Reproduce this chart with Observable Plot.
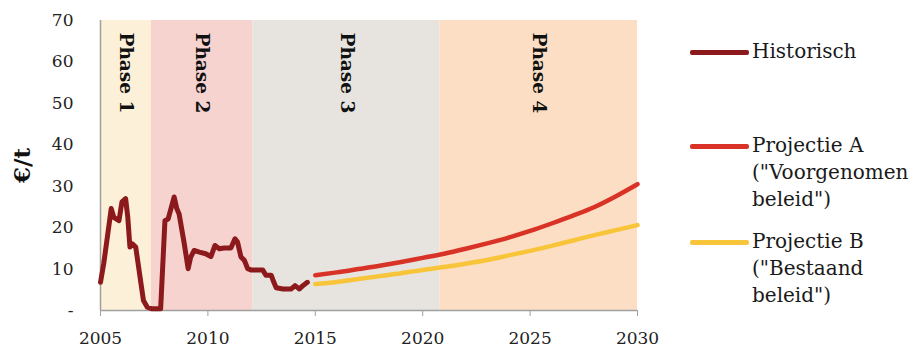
<!DOCTYPE html>
<html>
<head>
<meta charset="utf-8">
<script src="https://cdn.jsdelivr.net/npm/d3@7"></script>
<script src="https://cdn.jsdelivr.net/npm/@observablehq/plot@0.6"></script>
<style>
  html, body { margin: 0; padding: 0; background: #fff; }
  #wrap { position: relative; width: 911px; height: 351px; overflow: hidden; }
  #chart { position: absolute; left: 0; top: 0; }
  .leg-line { position: absolute; height: 5px; border-radius: 2px; }
  .leg-text { position: absolute; font-family: "DejaVu Serif", serif; font-size: 20px; line-height: 27px; color: #1a1a1a; white-space: nowrap; }
</style>
</head>
<body>
<div id="wrap">
  <div id="chart"></div>
</div>
<script>
// ---- Data ----
const phaseNames = ["Phase 1", "Phase 2", "Phase 3", "Phase 4"];
const phaseStart = [2005, 2007.37, 2012.1, 2020.8];
const phaseEnd   = [2007.37, 2012.1, 2020.8, 2030];

const histYear = [2005.00, 2005.15, 2005.50, 2005.62, 2005.86, 2006.00, 2006.17, 2006.27, 2006.37, 2006.48,
                  2006.64, 2007.00, 2007.18, 2007.40, 2007.80, 2008.00, 2008.15, 2008.43, 2008.55, 2008.66,
                  2008.90, 2009.08, 2009.20, 2009.36, 2009.60, 2009.90, 2010.14, 2010.33, 2010.53, 2010.76,
                  2011.07, 2011.26, 2011.38, 2011.54, 2011.70, 2011.85, 2012.00, 2012.55, 2012.70, 2012.95,
                  2013.07, 2013.18, 2013.50, 2013.88, 2014.06, 2014.26, 2014.42, 2014.63];
const histValue = [6.8, 11.3, 24.6, 22.5, 21.7, 26.2, 27.0, 22.5, 15.3, 16.1,
                   15.3, 2.4, 0.8, 0.4, 0.4, 21.7, 22.1, 27.4, 24.6, 23.3,
                   16.1, 10.1, 12.9, 14.5, 14.1, 13.7, 13.0, 15.7, 14.9, 15.1,
                   15.1, 17.3, 16.5, 12.9, 12.1, 10.1, 9.8, 9.8, 8.5, 8.5,
                   6.8, 5.5, 5.2, 5.2, 6.0, 5.2, 6.0, 6.8];

const projYear = [2015, 2016, 2017, 2018, 2019, 2020, 2021, 2022, 2023, 2024, 2025, 2026, 2027, 2028, 2029, 2030];
const projA    = [8.5, 9.2, 10.0, 10.8, 11.7, 12.7, 13.7, 14.9, 16.2, 17.6, 19.2, 21.0, 22.9, 25.0, 27.6, 30.5];
const projB    = [6.4, 6.9, 7.6, 8.3, 9.0, 9.8, 10.5, 11.3, 12.2, 13.3, 14.4, 15.6, 16.9, 18.2, 19.4, 20.6];

const xTicks = [2005, 2010, 2015, 2020, 2025, 2030];
const yTicks = [0, 10, 20, 30, 40, 50, 60, 70];
const yLabel = "€/t";
const seriesNames = ["Historisch", "Projectie A\n(\"Voorgenomen\nbeleid\")", "Projectie B\n(\"Bestaand\nbeleid\")"];

// ---- Build tables ----
const phaseFill = ["#fdf0d8", "#f6d3cf", "#e7e4df", "#fcdec4"];
const phases = phaseNames.map((name, i) => ({name, x1: phaseStart[i], x2: phaseEnd[i], fill: phaseFill[i]}));
const hist = histYear.map((x, i) => ({x, y: histValue[i]}));
const pA = projYear.map((x, i) => ({x, y: projA[i]}));
const pB = projYear.map((x, i) => ({x, y: projB[i]}));

const colHist = "#8c1a1c", colA = "#d93327", colB = "#f8c53a";

const yMax = yTicks[yTicks.length - 1];

const chart = Plot.plot({
  width: 680,
  height: 351,
  marginLeft: 100,
  marginRight: 43,
  marginTop: 20,
  marginBottom: 41,
  style: {fontFamily: "DejaVu Serif, serif", fontSize: "17px", color: "#222", background: "transparent"},
  x: {domain: [xTicks[0], xTicks[xTicks.length - 1]]},
  y: {domain: [0, yMax]},
  marks: [
    Plot.rectY(phases, {x1: "x1", x2: "x2", y1: 0, y2: yMax, fill: "fill"}),
    Plot.text(phases, {
      x: d => (d.x1 + d.x2) / 2, y: () => yMax, text: "name",
      rotate: 90, textAnchor: "start", lineAnchor: "middle", dy: 12,
      fontFamily: "DejaVu Serif, serif", fontWeight: "bold", fontSize: 18.5,
      fill: "#111"
    }),
    Plot.ruleX([xTicks[0]], {stroke: "#a0a0a0", strokeWidth: 1.5}),
    Plot.ruleY([0], {stroke: "#a0a0a0", strokeWidth: 1.5}),
    Plot.axisX({ticks: xTicks, tickFormat: d => String(d), tickSize: 6, tickPadding: 15, stroke: "#a0a0a0", label: null}),
    Plot.axisY({ticks: yTicks, tickFormat: d => d === 0 ? "-" : String(d), tickSize: 0, tickPadding: 27, label: null}),
    Plot.text([yLabel], {
      frameAnchor: "left", y: () => yMax / 2, dx: -78, text: d => d,
      rotate: -90, textAnchor: "middle", lineAnchor: "middle",
      fontWeight: "bold", fontSize: 23, fill: "#111"
    }),
    Plot.line(hist, {x: "x", y: "y", stroke: colHist, strokeWidth: 5, strokeLinejoin: "round", strokeLinecap: "round"}),
    Plot.line(pA, {x: "x", y: "y", stroke: colA, strokeWidth: 4.5, curve: "monotone-x"}),
    Plot.line(pB, {x: "x", y: "y", stroke: colB, strokeWidth: 4.5, curve: "monotone-x"})
  ]
});
document.getElementById("chart").appendChild(chart);

// ---- Legend ----
const wrap = document.getElementById("wrap");
const legendRows = [52, 146, 242];
const legendCols = [colHist, colA, colB];
seriesNames.forEach((name, i) => {
  const ln = document.createElement("div");
  ln.className = "leg-line";
  ln.style.left = "690px";
  ln.style.width = "59px";
  ln.style.top = (legendRows[i] - 2.5) + "px";
  ln.style.background = legendCols[i];
  wrap.appendChild(ln);
  const tx = document.createElement("div");
  tx.className = "leg-text";
  tx.style.left = "752px";
  tx.style.top = (legendRows[i] - 14) + "px";
  tx.innerHTML = name.split("\n").map(s => s.replace(/&/g, "&amp;").replace(/</g, "&lt;")).join("<br>");
  wrap.appendChild(tx);
});
</script>
</body>
</html>
